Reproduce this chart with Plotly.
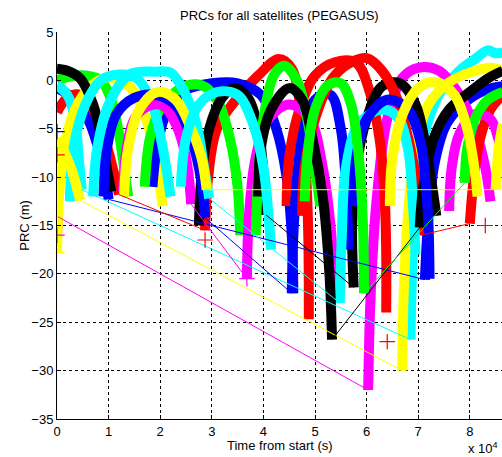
import plotly.graph_objects as go

# Time axis in units of 10^4 s, PRC in metres. None separates passes of a satellite.
b1_t = [0.00, 0.30, 0.60, 0.80, 0.92, 1.00, None, 7.13, 7.20, 7.32, 7.55, 7.90, 8.30, 8.64]
b1_v = [-0.8, -1.8, -4.0, -7.0, -9.5, -12.3, None, -20.6, -14.0, -8.5, -4.5, -2.3, -1.0, -0.6]
b2_t = [1.85, 1.95, 2.15, 2.50, 3.00, 3.50, 3.95, 4.25, 4.45, 4.55, 4.58]
b2_v = [-11.0, -6.5, -3.0, -1.0, -0.3, -0.3, -1.5, -5.0, -10.0, -16.0, -22.0]
b3_t = [0.90, 0.97, 1.15, 1.50, 1.90, 2.30, 2.60, 2.80, 2.87, None, 4.55, 4.60, 4.75, 5.00, 5.30, 5.50, 5.60, 5.65]
b3_v = [-12.0, -7.0, -3.5, -1.8, -1.5, -2.6, -6.0, -10.5, -14.2, None, -22.0, -14.0, -6.0, -2.0, -1.5, -5.0, -11.0, -17.5]
b4_t = [5.75, 5.80, 6.00, 6.40, 6.80, 7.05, 7.15, 7.20, 7.22]
b4_v = [-13.0, -8.0, -4.0, -2.0, -3.0, -6.5, -11.0, -15.0, -20.5]

g1_t = [0.00, 0.25, 0.55, 0.85, 1.05, 1.20, 1.30, 1.38]
g1_v = [0.0, 0.4, 0.5, 0.0, -2.0, -5.5, -9.0, -12.0]
g2_t = [1.70, 1.80, 2.00, 2.40, 2.80, 3.10, 3.35, 3.50, 3.55]
g2_v = [-11.0, -6.0, -3.0, -0.8, -0.5, -2.0, -6.0, -11.0, -16.0]
g3_t = [3.85, 3.90, 4.00, 4.20, 4.40, 4.65, 4.85, 5.00, 5.10]
g3_v = [-16.0, -10.0, -4.0, 0.5, 1.5, 0.0, -4.0, -9.0, -13.0]
g4_t = [4.80, 4.85, 5.00, 5.25, 5.50, 5.70, 5.85, 5.93, 5.95, None, 7.90, 7.95, 8.10, 8.35, 8.64]
g4_v = [-12.5, -8.0, -3.0, -0.5, -0.3, -2.5, -8.0, -15.0, -22.0, None, -10.6, -7.0, -4.0, -2.0, -1.2]

r1_t = [0.00, 0.20, 0.45, 0.70, 0.95, 1.10, 1.20, None, 2.87, 2.93, 3.10, 3.50, 3.90, 4.30, 4.55, 4.72, 4.82, 4.87, 4.88]
r1_v = [-3.3, -1.8, -1.5, -3.0, -6.5, -9.5, -11.8, None, -15.5, -10.0, -5.0, -1.8, 0.5, 2.2, 1.2, -3.0, -9.0, -16.0, -24.7]
r2_t = [4.45, 4.50, 4.70, 5.00, 5.40, 5.80, 6.05, 6.25, 6.35, 6.38, 6.38]
r2_v = [-13.0, -8.0, -3.0, 0.5, 1.9, 1.8, -1.0, -6.0, -12.0, -18.0, -24.0]
r3_t = [4.75, 4.80, 5.00, 5.35, 5.75, 6.00, 6.30, 6.60, 6.85, 7.00, 7.05, None, 8.00, 8.08, 8.20, 8.40, 8.64]
r3_v = [-14.0, -9.0, -4.0, 0.3, 2.0, 2.3, 1.0, -2.0, -7.0, -12.0, -16.0, None, -14.8, -10.0, -6.0, -3.0, -1.5]

c1_t = [0.00, 0.20, 0.35, 0.42, 0.48, None, 6.85, 6.88, 6.95, 7.10, 7.40, 7.80, 8.10, 8.35, 8.50, 8.64]
c1_v = [-0.5, -1.5, -4.0, -8.0, -11.3, None, -26.8, -20.0, -12.0, -6.0, -1.5, 1.0, 2.2, 3.1, 2.8, 2.9]
c2_t = [0.25, 0.32, 0.55, 0.85, 1.20, 1.55, 1.85, 2.05, 2.20]
c2_v = [-12.5, -7.0, -2.5, 0.0, 0.6, 0.2, -2.5, -7.0, -12.0]
c3_t = [0.70, 0.78, 1.00, 1.40, 1.90, 2.20, 2.45, 2.70, 2.85, 2.95, None, 5.48, 5.52, 5.60, 5.85, 6.30, 6.60, 6.80, 6.90, 6.95]
c3_v = [-12.0, -7.0, -2.5, 0.6, 0.9, 0.8, -1.0, -4.5, -9.0, -12.2, None, -23.0, -16.0, -9.0, -4.5, -3.0, -3.8, -7.0, -13.0, -18.0]
c4_t = [2.40, 2.50, 2.75, 3.10, 3.50, 3.80, 4.00, 4.10, 4.15]
c4_v = [-11.0, -6.0, -2.5, -1.2, -1.5, -4.5, -9.0, -14.0, -17.5]

m1_t = [0.00, 0.01, 0.02, None, 6.03, 6.08, 6.20, 6.40, 6.70, 7.00, 7.40, 7.80, 8.10, 8.30, 8.40]
m1_v = [-16.0, -15.0, -14.1, None, -32.0, -22.0, -12.0, -4.0, 0.3, 1.3, 1.0, -1.5, -5.0, -9.0, -12.5]
m2_t = [1.28, 1.35, 1.50, 1.75, 2.05, 2.30, 2.50, 2.60, None, 3.68, 3.72, 3.85, 4.10, 4.50, 4.90, 5.15, 5.30, 5.38]
m2_v = [-11.5, -7.0, -4.0, -2.7, -2.6, -4.5, -8.0, -12.8, None, -20.5, -14.0, -8.0, -4.0, -2.5, -4.0, -9.0, -15.0, -21.4]
m3_t = [7.60, 7.65, 7.80, 8.10, 8.40, 8.55, 8.64]
m3_v = [-13.5, -9.0, -5.5, -3.5, -4.0, -6.0, -8.0]

y1_t = [0.00, 0.03, 0.12, 0.35, 0.65, 1.00, 1.40, 1.70, 1.90, 2.05]
y1_v = [-17.8, -13.0, -7.5, -3.0, -0.6, 0.3, -0.6, -3.5, -8.0, -13.0]
y2_t = [0.00, 0.15, 0.30, 0.45, None, 6.69, 6.72, 6.80, 6.95, 7.20, 7.60, 8.00, 8.40, 8.64]
y2_v = [-6.0, -7.5, -9.5, -12.4, None, -30.0, -22.0, -14.0, -7.0, -2.5, -0.2, 0.8, 1.3, 1.0]
y3_t = [1.30, 1.38, 1.60, 1.95, 2.30, 2.60, 2.80, 2.90, None, 8.50, 8.56, 8.64]
y3_v = [-12.0, -7.0, -3.0, -1.2, -2.0, -5.0, -8.0, -11.3, None, -11.3, -7.0, -4.5]
y4_t = [6.45, 6.50, 6.70, 7.00, 7.35, 7.70, 7.95, 8.10, 8.15]
y4_v = [-13.0, -8.0, -3.5, -0.8, -0.2, -1.5, -5.0, -9.5, -12.0]

k1_t = [0.00, 0.20, 0.45, 0.70, 0.88, 0.98, 1.05]
k1_v = [1.2, 1.0, 0.2, -2.5, -6.5, -9.5, -11.5]
k2_t = [2.75, 2.80, 2.95, 3.20, 3.45, 3.70, 3.90, 4.00, 4.05, None, 5.75, 5.72, 5.80, 6.00, 6.30, 6.65, 6.95, 7.15, 7.30, 7.35]
k2_v = [-15.0, -10.0, -5.0, -1.8, -0.8, -1.8, -5.0, -9.5, -13.9, None, -21.4, -15.0, -9.0, -4.0, -0.6, -0.3, -2.5, -7.0, -12.0, -14.0]
k3_t = [3.90, 3.95, 4.15, 4.50, 4.75, 4.95, 5.15, 5.28, 5.33, None, 7.03, 7.10, 7.30, 7.60, 8.00, 8.35, 8.64]
k3_v = [-12.0, -7.0, -3.0, -0.8, -2.0, -6.0, -12.0, -20.0, -26.8, None, -15.2, -11.0, -6.0, -3.0, -1.2, 0.2, 1.0]

# isolated '+' samples
plus_t = [0.00, 0.00, 0.00, 0.00, 2.87, 3.68, 6.40, 8.30]
plus_v = [-5.3, -7.7, -16.0, -17.8, -16.5, -20.5, -27.0, -15.0]
plus_c = ["#0000FF", "#FF0000", "#FF00FF", "#FFFF00", "#FF0000", "#FF00FF", "#FF0000", "#FF0000"]

BLUE, GREEN, RED, CYAN = "#0000FF", "#00FF00", "#FF0000", "#00FFFF"
MAGENTA, YELLOW, BLACK = "#FF00FF", "#FFFF00", "#000000"

satellites = [
    (BLUE, b1_t, b1_v), (GREEN, g1_t, g1_v), (RED, r1_t, r1_v), (CYAN, c1_t, c1_v),
    (MAGENTA, m1_t, m1_v), (YELLOW, y1_t, y1_v), (BLACK, k1_t, k1_v),
    (BLUE, b2_t, b2_v), (GREEN, g2_t, g2_v), (RED, r2_t, r2_v), (CYAN, c2_t, c2_v),
    (MAGENTA, m2_t, m2_v), (YELLOW, y2_t, y2_v), (BLACK, k2_t, k2_v),
    (BLUE, b3_t, b3_v), (GREEN, g3_t, g3_v), (RED, r3_t, r3_v), (CYAN, c3_t, c3_v),
    (MAGENTA, m3_t, m3_v), (YELLOW, y3_t, y3_v), (BLACK, k3_t, k3_v),
    (BLUE, b4_t, b4_v), (GREEN, g4_t, g4_v), (CYAN, c4_t, c4_v), (YELLOW, y4_t, y4_v),
]


def split_passes(ts, vs):
    passes, cur_t, cur_v = [], [], []
    for t, v in zip(ts, vs):
        if t is None:
            passes.append((cur_t, cur_v))
            cur_t, cur_v = [], []
        else:
            cur_t.append(t)
            cur_v.append(v)
    passes.append((cur_t, cur_v))
    return passes


fig = go.Figure()
links = []
for color, ts, vs in satellites:
    passes = split_passes(ts, vs)
    for pt, pv in passes:
        fig.add_trace(go.Scatter(x=pt, y=pv, mode="lines",
                                 line=dict(color=color, width=10, shape="spline"),
                                 hoverinfo="skip", showlegend=False))
    for (at, av), (bt, bv) in zip(passes[:-1], passes[1:]):
        links.append((color, [at[-1], bt[0]], [av[-1], bv[0]]))

for color, lt, lv in links:
    fig.add_trace(go.Scatter(x=lt, y=lv, mode="lines", line=dict(color=color, width=1),
                             hoverinfo="skip", showlegend=False))

fig.add_trace(go.Scatter(x=plus_t, y=plus_v, mode="markers",
                         marker=dict(symbol="cross-thin", size=11, line=dict(width=1.2, color=plus_c)),
                         hoverinfo="skip", showlegend=False))

axis_font = dict(family="Liberation Sans, Arial, sans-serif", size=13, color="black")
fig.update_layout(
    width=502, height=457,
    margin=dict(l=57, r=0, t=32, b=38),
    paper_bgcolor="white", plot_bgcolor="white",
    font=axis_font,
    xaxis=dict(range=[0, 8.624], tickvals=list(range(9)), ticktext=[str(i) for i in range(9)],
               showgrid=True, gridcolor="black", griddash="dot", gridwidth=1,
               zeroline=False, showline=True, linecolor="black", linewidth=1,
               ticks="inside", ticklen=4, tickcolor="black", tickfont=axis_font),
    yaxis=dict(range=[-35, 5], tickvals=list(range(-35, 6, 5)),
               showgrid=True, gridcolor="black", griddash="dot", gridwidth=1,
               zeroline=False, showline=True, linecolor="black", linewidth=1,
               ticks="inside", ticklen=4, tickcolor="black", tickfont=axis_font),
    annotations=[
        dict(text="PRCs for all satellites (PEGASUS)", x=0.5, y=1.0, xref="paper", yref="paper",
             yanchor="bottom", yshift=7, showarrow=False, font=axis_font),
        dict(text="Time from start (s)", x=0.5, y=0.0, xref="paper", yref="paper",
             yanchor="middle", yshift=-26, showarrow=False, font=axis_font),
        dict(text="PRC (m)", x=-0.095, y=0.5, xref="paper", yref="paper", textangle=-90,
             showarrow=False, font=axis_font),
        dict(text="x 10<sup>4</sup>", x=1.0, y=0.0, xref="paper", yref="paper",
             xanchor="right", yanchor="middle", yshift=-29, xshift=-2,
             showarrow=False, font=axis_font),
    ],
)

fig.write_html("out.html")
